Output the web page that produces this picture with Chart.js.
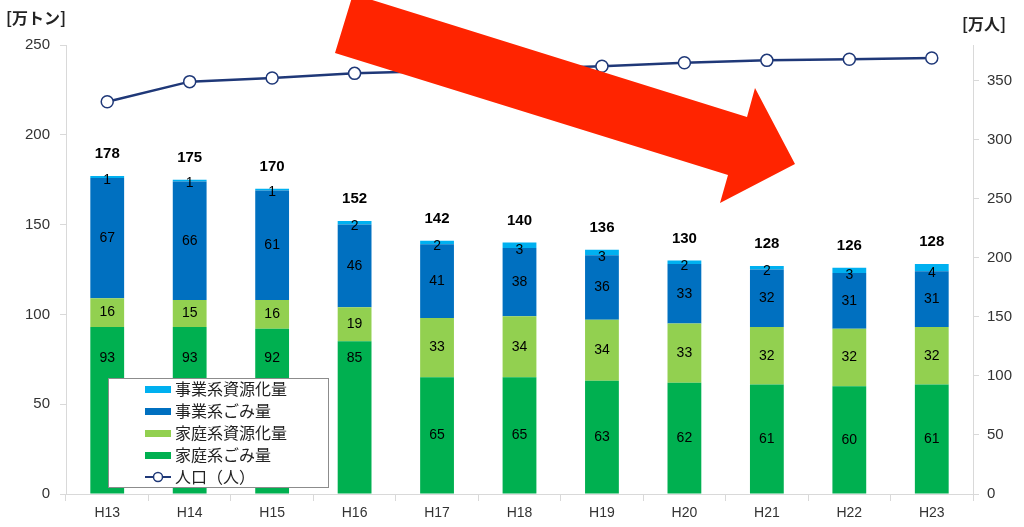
<!DOCTYPE html>
<html>
<head>
<meta charset="utf-8">
<script src="https://cdn.jsdelivr.net/npm/chart.js@4.4.1/dist/chart.umd.min.js"></script>
<style>
  html, body { margin: 0; padding: 0; background: #fff; }
  #wrap { width: 1024px; height: 527px; position: relative; }
</style>
</head>
<body>
<div id="wrap"><canvas id="myChart" width="1024" height="527"></canvas></div>
<script>
// data
var years = ['H13', 'H14', 'H15', 'H16', 'H17', 'H18', 'H19', 'H20', 'H21', 'H22', 'H23'];
var homeGarbage = [93, 93, 92, 85, 65, 65, 63, 62, 61, 60, 61];
var homeRecycle = [16, 15, 16, 19, 33, 34, 34, 33, 32, 32, 32];
var bizGarbage = [67, 66, 61, 46, 41, 38, 36, 33, 32, 31, 31];
var bizRecycle = [1, 1, 1, 2, 2, 3, 3, 2, 2, 3, 4];
var totals = [178, 175, 170, 152, 142, 140, 136, 130, 128, 126, 128];
var population = [332, 349, 352, 356, 358, 360, 362, 365, 367, 368, 369];
var leftTicks = [0, 50, 100, 150, 200, 250];
var rightTicks = [0, 50, 100, 150, 200, 250, 300, 350];

var JP = '"Noto Sans CJK JP", sans-serif';
var NUM = '"Liberation Sans", Arial, sans-serif';

// legend box position (it sits over the first bars)
var LEG = { x: 108, y: 378, w: 220, h: 109 };

// labels, legend box, axis titles and the red arrow
var overlay = {
  id: 'overlay',
  afterDraw: function(chart) {
    var ctx = chart.ctx;
    ctx.save();

    // values inside the bars
    ctx.fillStyle = '#000';
    ctx.textAlign = 'center';
    ctx.textBaseline = 'middle';
    ctx.font = '14px ' + NUM;
    for (var d = 0; d < 4; d++) {
      var meta = chart.getDatasetMeta(d);
      meta.data.forEach(function(bar, i) {
        var v = chart.data.datasets[d].data[i];
        var mid = (bar.y + bar.base) / 2;
        if (d == 3) mid = bar.base + 2;
        // labels moved up out of the legend's way
        if (d == 0 && bar.x < LEG.x + LEG.w + 40) mid = Math.min(mid, LEG.y - 20);
        ctx.fillText(v, bar.x, mid);
      });
    }
    // totals above the bars
    ctx.font = 'bold 15px ' + NUM;
    var top = chart.getDatasetMeta(3);
    top.data.forEach(function(bar, i) {
      ctx.fillText(totals[i], bar.x, bar.y - 22);
    });

    // axis titles
    ctx.font = 'bold 16px ' + JP;
    ctx.textAlign = 'left';
    ctx.fillStyle = '#222';
    ctx.fillText('[万トン]', 6, 18);
    ctx.fillText('[万人]', 962, 24);

    // legend box
    ctx.fillStyle = '#fff';
    ctx.fillRect(LEG.x, LEG.y, LEG.w, LEG.h);
    ctx.strokeStyle = '#8c8c8c';
    ctx.lineWidth = 1;
    ctx.strokeRect(LEG.x + 0.5, LEG.y + 0.5, LEG.w, LEG.h);
    var items = [3, 2, 1, 0, 4];
    ctx.font = '16px ' + JP;
    items.forEach(function(di, k) {
      var ds = chart.data.datasets[di];
      var y = LEG.y + 11 + k * 22;
      if (di == 4) {
        ctx.strokeStyle = ds.borderColor;
        ctx.lineWidth = 2;
        ctx.beginPath();
        ctx.moveTo(145, y);
        ctx.lineTo(171, y);
        ctx.stroke();
        ctx.beginPath();
        ctx.arc(158, y, 4.5, 0, Math.PI * 2);
        ctx.fillStyle = '#fff';
        ctx.fill();
        ctx.lineWidth = 1.5;
        ctx.stroke();
      } else {
        ctx.fillStyle = ds.backgroundColor;
        ctx.fillRect(145, y - 3, 26, 7);
      }
      ctx.fillStyle = '#222';
      ctx.textAlign = 'left';
      ctx.fillText(ds.label, 175, y);
    });

    // red arrow
    ctx.fillStyle = '#ff2400';
    ctx.beginPath();
    ctx.moveTo(353, -6);
    ctx.lineTo(747, 117);
    ctx.lineTo(755, 88);
    ctx.lineTo(795, 164);
    ctx.lineTo(720, 203);
    ctx.lineTo(728, 175);
    ctx.lineTo(335, 53);
    ctx.closePath();
    ctx.fill();

    ctx.restore();
  }
};

var ctx = document.getElementById('myChart').getContext('2d');
window.myChart = new Chart(ctx, {
  type: 'bar',
  data: {
    labels: years,
    datasets: [
      { label: '家庭系ごみ量', data: homeGarbage, backgroundColor: '#00b050', stack: 's', order: 1 },
      { label: '家庭系資源化量', data: homeRecycle, backgroundColor: '#92d050', stack: 's', order: 1 },
      { label: '事業系ごみ量', data: bizGarbage, backgroundColor: '#0070c0', stack: 's', order: 1 },
      { label: '事業系資源化量', data: bizRecycle, backgroundColor: '#00b0f0', stack: 's', order: 1 },
      {
        label: '人口（人）', type: 'line', data: population, yAxisID: 'y1', order: 0,
        borderColor: '#1f3878', borderWidth: 2.5, pointRadius: 6, pointBorderWidth: 1.5,
        pointBackgroundColor: '#fff', pointBorderColor: '#1f3878', tension: 0
      }
    ]
  },
  options: {
    responsive: false,
    animation: false,
    layout: { padding: { top: 45, left: 0, right: 0, bottom: 0 } },
    datasets: { bar: { categoryPercentage: 1, barPercentage: 0.41 } },
    plugins: { legend: { display: false }, tooltip: { enabled: false } },
    scales: {
      x: {
        stacked: true,
        offset: true,
        grid: { offset: true, drawOnChartArea: false, tickLength: 7, color: '#d9d9d9' },
        border: { color: '#d9d9d9' },
        ticks: { color: '#333', font: { size: 14, family: NUM }, padding: 4 },
        afterFit: function(s) { s.height = 33; }
      },
      y: {
        stacked: true,
        min: 0, max: 250,
        afterBuildTicks: function(s) { s.ticks = leftTicks.map(function(v) { return { value: v }; }); },
        grid: { drawOnChartArea: false, tickLength: 6, color: '#d9d9d9' },
        border: { color: '#d9d9d9' },
        ticks: { color: '#333', font: { size: 15, family: NUM }, padding: 10 },
        afterFit: function(s) { s.width = 66; }
      },
      y1: {
        position: 'right',
        min: 0, max: 380,
        afterBuildTicks: function(s) { s.ticks = rightTicks.map(function(v) { return { value: v }; }); },
        grid: { drawOnChartArea: false, tickLength: 6, color: '#d9d9d9' },
        border: { color: '#d9d9d9' },
        ticks: { color: '#333', font: { size: 15, family: NUM }, padding: 8 },
        afterFit: function(s) { s.width = 51; }
      }
    }
  },
  plugins: [overlay]
});
</script>
</body>
</html>
